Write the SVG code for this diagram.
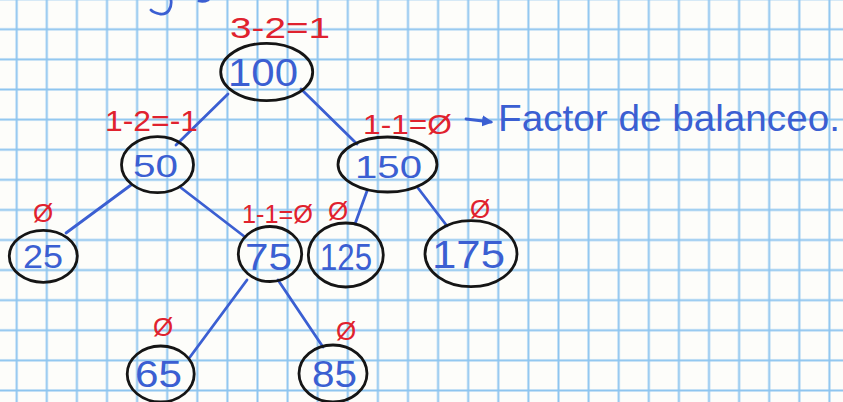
<svg xmlns="http://www.w3.org/2000/svg" width="843" height="402" viewBox="0 0 843 402">
<defs>
<pattern id="grid" patternUnits="userSpaceOnUse" x="1.65" y="14.25" width="30.1" height="30.1">
<line x1="15.05" y1="0" x2="15.05" y2="30.1" stroke="#8ec5ef" stroke-width="2"/>
<line x1="0" y1="15.05" x2="30.1" y2="15.05" stroke="#8ec5ef" stroke-width="2"/>
</pattern>
<marker id="ah" viewBox="0 0 10 10" refX="8" refY="5" markerWidth="4" markerHeight="4" orient="auto">
<path d="M0,0 L10,5 L0,10 z" fill="#3b5fd2"/>
</marker>
</defs>
<style>
.node ellipse{fill:none;stroke:#151515;stroke-width:2.8}
.num{font-family:"Liberation Sans",Arial,sans-serif;fill:#3b5fd2;text-anchor:start}
.bf{font-family:"Liberation Sans",Arial,sans-serif;fill:#e0222e}
.z{font-family:"Liberation Sans",Arial,sans-serif;fill:#e0222e;text-anchor:middle;font-size:26px}
.edge{stroke:#3b5fd2;stroke-width:2.8;fill:none;stroke-linecap:round}
.note{font-family:"Liberation Sans",Arial,sans-serif;fill:#3b5fd2}
</style>
<rect width="843" height="402" fill="#fdfdfa"/>
<rect width="843" height="402" fill="url(#grid)"/>
<path d="M171,0 C172,8 168,15 160,14 C155,13 152,11 151,10" class="edge"/>
<path d="M199,1 C203,2 206,1 208,0" class="edge"/>
<g id="connectors">
<line class="edge" x1="228" y1="94" x2="176" y2="145"/>
<line class="edge" x1="301" y1="89" x2="357" y2="144"/>
<line class="edge" x1="131" y1="185" x2="66" y2="233"/>
<line class="edge" x1="180" y1="187" x2="245" y2="237"/>
<line class="edge" x1="367" y1="191" x2="355" y2="224"/>
<line class="edge" x1="418" y1="188" x2="447" y2="226"/>
<line class="edge" x1="247" y1="280" x2="190" y2="357"/>
<line class="edge" x1="278" y1="280" x2="323" y2="347"/>
</g>
<g id="n100" class="node"><ellipse cx="266.7" cy="72" rx="46" ry="28.7"/><text class="num" x="228" y="86" font-size="38" textLength="70" lengthAdjust="spacingAndGlyphs">100</text></g>
<g id="n50" class="node"><ellipse cx="157.5" cy="164.7" rx="36" ry="28"/><text class="num" x="133" y="177" font-size="31" textLength="45" lengthAdjust="spacingAndGlyphs">50</text></g>
<g id="n150" class="node"><ellipse cx="387.5" cy="164.5" rx="49.5" ry="27.5"/><text class="num" x="355" y="178" font-size="32" textLength="67" lengthAdjust="spacingAndGlyphs">150</text></g>
<g id="n25" class="node"><ellipse cx="43.3" cy="256.3" rx="34" ry="26"/><text class="num" x="23" y="268" font-size="34" textLength="40" lengthAdjust="spacingAndGlyphs">25</text></g>
<g id="n75" class="node"><ellipse cx="270" cy="254" rx="31.7" ry="27.5"/><text class="num" x="245" y="270" font-size="36" textLength="47" lengthAdjust="spacingAndGlyphs">75</text></g>
<g id="n125" class="node"><ellipse cx="345.8" cy="255" rx="37.5" ry="32"/><text class="num" x="320" y="270" font-size="36" textLength="52" lengthAdjust="spacingAndGlyphs">125</text></g>
<g id="n175" class="node"><ellipse cx="471" cy="253.7" rx="46" ry="33"/><text class="num" x="432" y="268" font-size="38" textLength="73" lengthAdjust="spacingAndGlyphs">175</text></g>
<g id="n65" class="node"><ellipse cx="160.7" cy="374" rx="33.5" ry="28"/><text class="num" x="135" y="387" font-size="36" textLength="47" lengthAdjust="spacingAndGlyphs">65</text></g>
<g id="n85" class="node"><ellipse cx="333" cy="373.5" rx="34" ry="28.5"/><text class="num" x="312" y="387" font-size="36" textLength="45" lengthAdjust="spacingAndGlyphs">85</text></g>
<g id="labels">
<text class="bf" x="230" y="38" font-size="30" textLength="100" lengthAdjust="spacingAndGlyphs">3-2=1</text>
<text class="bf" x="105" y="131" font-size="30" textLength="93" lengthAdjust="spacingAndGlyphs">1-2=-1</text>
<text class="bf" x="363" y="134" font-size="28" textLength="89" lengthAdjust="spacingAndGlyphs">1-1=Ø</text>
<text class="bf" x="242" y="223" font-size="26" textLength="71" lengthAdjust="spacingAndGlyphs">1-1=Ø</text>
<text class="z" x="43" y="222">Ø</text>
<text class="z" x="338" y="220">Ø</text>
<text class="z" x="480" y="218">Ø</text>
<text class="z" x="163" y="336">Ø</text>
<text class="z" x="346" y="340">Ø</text>
</g>
<g id="note">
<line class="edge" x1="466" y1="119" x2="491" y2="122" marker-end="url(#ah)"/>
<text class="note" x="498" y="131" font-size="36" textLength="342" lengthAdjust="spacingAndGlyphs">Factor de balanceo.</text>
</g>
</svg>
